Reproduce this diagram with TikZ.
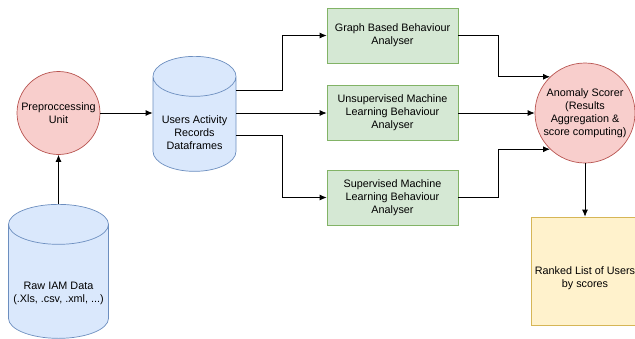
\documentclass[tikz,border=0pt]{standalone}
\usepackage{fontspec}
\setmainfont{Liberation Sans}
\usetikzlibrary{shapes,arrows,arrows.meta,positioning}
\definecolor{pinkfill}{HTML}{F8CECC}
\definecolor{pinkline}{HTML}{B85450}
\definecolor{bluefill}{HTML}{DAE8FC}
\definecolor{blueline}{HTML}{6C8EBF}
\definecolor{greenfill}{HTML}{D5E8D4}
\definecolor{greenline}{HTML}{82B366}
\definecolor{yellowfill}{HTML}{FFF2CC}
\definecolor{yellowline}{HTML}{D6B656}

\begin{document}
\begin{tikzpicture}[x=1pt,y=-1pt,% one unit is one pixel of the drawing, y runs down
		every node/.style={
			align=center,	% use this so that the "\\" for line break works
			font=\fontsize{10.8}{12.9}\selectfont
		},
		unit/.style={circle,draw=pinkline,fill=pinkfill,line width=0.7pt,inner sep=0pt},
		store/.style={cylinder,shape border rotate=90,aspect=6,anchor=north,draw=blueline,fill=bluefill,line width=0.7pt},
		analyser/.style={rectangle,draw=greenline,fill=greenfill,line width=0.7pt,minimum width=131pt,minimum height=55pt},
		flow/.style={draw,line width=0.8pt,-{Latex[length=7pt,width=6pt]}},
		every edge/.style={flow}
	]
	\useasboundingbox (0,0) rectangle (635,338);
	\node[store,minimum width=100pt,minimum height=134pt,label={[yshift=-8pt]center:Raw IAM Data\\(.Xls, .csv, .xml, ...)}](R1) at (58.5,204){};
	\node[unit,minimum size=83pt](R2) at (58.5,113){Preproccessing\\Unit};
	\node[store,minimum width=83pt,minimum height=115pt,label={[yshift=-4.5pt]center:Users Activity\\Records\\Dataframes}](R3) at (194.5,56){};
	\node[analyser](R4) at (392.5,35.5){Graph Based Behaviour\\Analyser};
	\node[analyser](R5) at (392.5,113){Unsupervised Machine\\Learning Behaviour\\Analyser};
	\node[analyser](R6) at (392.5,197.5){Supervised Machine\\Learning Behaviour\\Analyser};
	\node[unit,minimum size=100pt](R7) at (585,113){Anomaly Scorer\\(Results\\Aggregation \&\\score computing)};
	\node[rectangle,draw=yellowline,fill=yellowfill,line width=0.7pt,minimum width=108pt,minimum height=108pt,label={[yshift=-7pt]center:Ranked List of Users\\by scores}](R8) at (585,271){};
	\path
	(R1) edge (R2)
	(R2.east) edge (R2.east -| R3.west)
	(R5.west -| R3.east) edge (R5.west)
	(R5) edge (R7)
	(R7) edge (R8)
	;
	\draw[flow] (R3.east |- 0,90) -- ++(46,0) |- (R4.west);
	\draw[flow] (R3.east |- 0,135) -- ++(46,0) |- (R6.west);
	\draw[flow] (R4.east) -- ++(40,0) |- (R7.134);
	\draw[flow] (R6.east) -- ++(40,0) |- (R7.226);
\end{tikzpicture}
\end{document}
